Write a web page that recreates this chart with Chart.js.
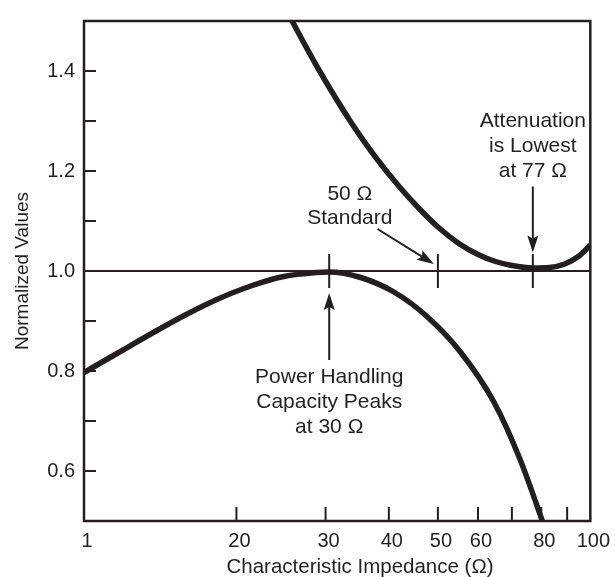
<!DOCTYPE html>
<html><head><meta charset="utf-8">
<script src="https://cdn.jsdelivr.net/npm/chart.js@4.4.1/dist/chart.umd.min.js"></script>
<style>html,body{margin:0;padding:0;background:#fff}#wrap{width:615px;height:577px;position:relative}</style>
</head><body><div id="wrap"><canvas id="c"></canvas></div>
<script>
// ---- data ----
const attenZ    = [24, 25.7, 29, 33.7, 37.5, 42, 46, 50, 55, 60, 65, 70, 77, 83, 89, 95, 100];
const attenVals = [1.560, 1.502, 1.405, 1.297, 1.230, 1.168, 1.124, 1.088, 1.055, 1.033, 1.019, 1.011, 1.006, 1.007, 1.014, 1.030, 1.052];
const powerZ    = [10, 11.66, 13.6, 15.78, 18.3, 21.35, 24.8, 28.8, 30.5, 35.2, 41.1, 47.7, 55.3, 64.5, 72.6, 80.2, 83];
const powerVals = [0.797, 0.836, 0.875, 0.911, 0.943, 0.970, 0.989, 0.997, 0.998, 0.987, 0.957, 0.908, 0.839, 0.738, 0.624, 0.503, 0.459];
const referenceZ    = [10, 100];
const referenceVals = [1.0, 1.0];
const xTickValues = [10, 20, 30, 40, 50, 60, 80, 100];
const xTickLabels = ['1', '20', '30', '40', '50', '60', '80', '100'];
const xMinorTicks = [20, 30, 40, 50, 60, 70, 80, 90];
const yTickValues = [0.6, 0.8, 1.0, 1.2, 1.4];
const yMinorTicks = [0.6, 0.7, 0.8, 0.9, 1.0, 1.1, 1.2, 1.3, 1.4];
const markerZ = [30.5, 50, 77];
const noteAttenLines = ['Attenuation', 'is Lowest', 'at 77 \u03A9'];
const noteStdLines = ['50 \u03A9', 'Standard'];
const notePowerLines = ['Power Handling', 'Capacity Peaks', 'at 30 \u03A9'];
const xTitle = 'Characteristic Impedance (\u03A9)';
const yTitle = 'Normalized Values';

const C = '#231f20';
const F = "'Liberation Sans', Arial, Helvetica, sans-serif";

function pts(xs, ys) { return xs.map((v, i) => ({x: v, y: ys[i]})); }

function arrow(ctx, x0, y0, x1, y1, len, w) {
  const ang = Math.atan2(y1 - y0, x1 - x0);
  const c = Math.cos(ang), s = Math.sin(ang);
  const bx = x1 - len * c, by = y1 - len * s;
  ctx.lineWidth = 2;
  ctx.beginPath(); ctx.moveTo(x0, y0); ctx.lineTo(bx + 3 * c, by + 3 * s); ctx.stroke();
  ctx.beginPath();
  ctx.moveTo(x1, y1);
  ctx.lineTo(bx + w / 2 * s, by - w / 2 * c);
  ctx.lineTo(bx + 3 * c, by + 3 * s);
  ctx.lineTo(bx - w / 2 * s, by + w / 2 * c);
  ctx.closePath(); ctx.fill();
}

function textBlock(ctx, lines, cx, baseY, gap) {
  lines.forEach((t, i) => ctx.fillText(t, cx, baseY + i * gap));
}

const decor = {
  id: 'decor',
  afterDatasetsDraw(chart) {
    const {ctx, chartArea: a, scales: {x, y}} = chart;
    ctx.save();
    ctx.strokeStyle = C; ctx.fillStyle = C;
    ctx.lineWidth = 2;
    ctx.beginPath();
    yMinorTicks.forEach(v => { const py = y.getPixelForValue(v); ctx.moveTo(a.left, py); ctx.lineTo(a.left + 12, py); });
    xMinorTicks.forEach(v => { const px = x.getPixelForValue(v); ctx.moveTo(px, a.bottom); ctx.lineTo(px, a.bottom - 14); });
    const y1 = y.getPixelForValue(1);
    markerZ.forEach(v => { const px = x.getPixelForValue(v); ctx.moveTo(px, y1 - 17); ctx.lineTo(px, y1 + 17); });
    ctx.stroke();
    ctx.lineWidth = 2.5;
    ctx.strokeRect(a.left, a.top, a.right - a.left, a.bottom - a.top);

    // annotations
    ctx.font = '21px ' + F;
    ctx.textAlign = 'center';
    ctx.textBaseline = 'alphabetic';
    const ax = x.getPixelForValue(77);
    textBlock(ctx, noteAttenLines, ax, y.getPixelForValue(1.2875), 25);
    arrow(ctx, ax, y.getPixelForValue(1.169), ax, y.getPixelForValue(1.037), 17, 11);

    textBlock(ctx, noteStdLines, x.getPixelForValue(33.5), y.getPixelForValue(1.1422), 24);
    arrow(ctx, x.getPixelForValue(38.0), y.getPixelForValue(1.084), x.getPixelForValue(49.1), y.getPixelForValue(1.014), 17, 11);

    const px = x.getPixelForValue(30.5);
    textBlock(ctx, notePowerLines, px, y.getPixelForValue(0.776), 25);
    arrow(ctx, px, y.getPixelForValue(0.822), px, y.getPixelForValue(0.956), 17, 11);

    // x-axis title
    ctx.font = '20.5px ' + F;
    ctx.textBaseline = 'middle';
    ctx.fillText(xTitle, 360, 567);
    ctx.restore();
  }
};

new Chart(document.getElementById('c'), {
  type: 'line',
  data: {
    datasets: [
      {label: 'Attenuation', data: pts(attenZ, attenVals), borderColor: C, borderWidth: 5.5, pointRadius: 0, cubicInterpolationMode: 'monotone', fill: false, clip: 1},
      {label: 'Power Handling', data: pts(powerZ, powerVals), borderColor: C, borderWidth: 5.5, pointRadius: 0, cubicInterpolationMode: 'monotone', fill: false, clip: 1},
      {label: 'Reference', data: pts(referenceZ, referenceVals), borderColor: C, borderWidth: 2, pointRadius: 0, fill: false, clip: 1}
    ]
  },
  options: {
    responsive: true, maintainAspectRatio: false, animation: false,
    layout: {padding: {top: 16, right: 21, left: 0, bottom: 0}},
    plugins: {legend: {display: false}, tooltip: {enabled: false}},
    scales: {
      x: {
        type: 'logarithmic', min: 10, max: 100,
        grid: {display: false, drawTicks: false}, border: {display: false},
        afterBuildTicks: s => { s.ticks = xTickValues.map(v => ({value: v})); },
        afterFit: s => { s.height = 56; },
        ticks: {autoSkip: false, maxRotation: 0, minRotation: 0, padding: 8, labelOffset: 3, color: C,
                font: {family: F, size: 20}, callback: (v, i) => xTickLabels[i]}
      },
      y: {
        min: 0.5, max: 1.5,
        grid: {display: false, drawTicks: false}, border: {display: false},
        afterBuildTicks: s => { s.ticks = yTickValues.map(v => ({value: v})); },
        afterFit: s => { s.width = 84; },
        ticks: {padding: 9, color: C, font: {family: F, size: 20}, callback: v => Number(v).toFixed(1)},
        title: {display: true, text: yTitle, color: C, font: {family: F, size: 19}, padding: {top: 11}}
      }
    }
  },
  plugins: [decor]
});
</script>
</body></html>
